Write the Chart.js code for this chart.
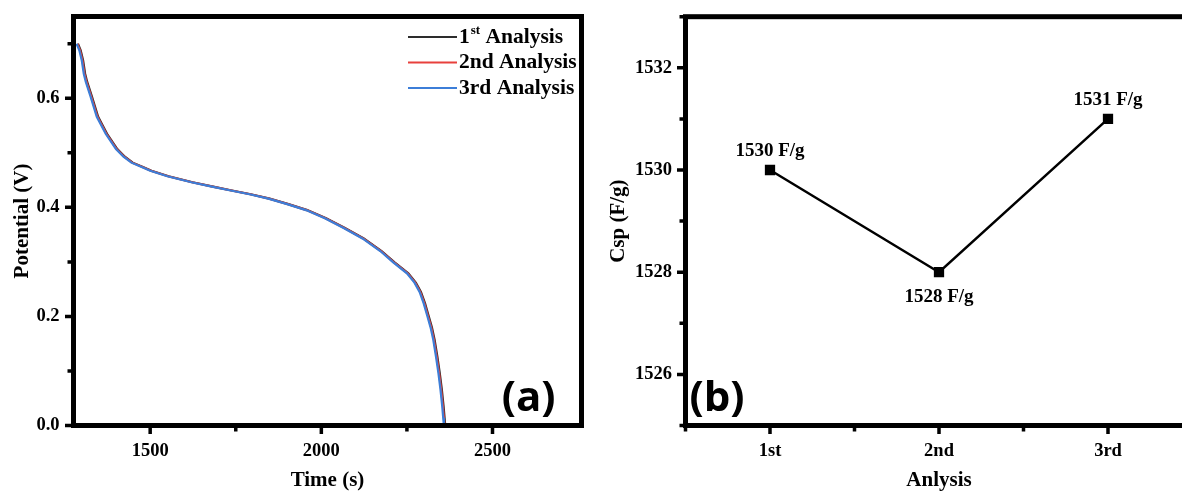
<!DOCTYPE html>
<html>
<head>
<meta charset="utf-8">
<script src="https://cdn.jsdelivr.net/npm/chart.js@4.4.0/dist/chart.umd.min.js"></script>
<style>
html, body { margin: 0; padding: 0; background: #fff; overflow: hidden; }
#wrap { position: relative; width: 1182px; height: 494px; overflow: hidden; }
#gcdChart { position: absolute; left: 0; top: 0; }
#cspChart { position: absolute; left: 600px; top: 0; }
</style>
</head>
<body>
<div id="wrap">
  <canvas id="gcdChart" width="600" height="494"></canvas>
  <canvas id="cspChart" width="620" height="494"></canvas>
</div>
<script>
// (a) discharge curves
const time1st = [1289, 1297, 1304, 1310, 1316, 1329, 1348, 1374, 1404, 1426, 1449, 1479, 1504, 1554, 1624, 1684, 1739, 1794, 1849, 1904, 1959, 2014, 2069, 2124, 2176, 2214, 2254, 2276, 2291, 2303, 2314, 2323, 2331, 2339, 2346, 2352, 2357, 2360, 2362];
const time2nd = [1287, 1295, 1302, 1308, 1314, 1327, 1346, 1372, 1402, 1424, 1447, 1477, 1502, 1552, 1622, 1682, 1737, 1792, 1847, 1902, 1957, 2012, 2067, 2122, 2174, 2212, 2252, 2274, 2289, 2301, 2312, 2321, 2329, 2337, 2344, 2350, 2355, 2358, 2360];
const time3rd = [1285, 1293, 1300, 1306, 1312, 1325, 1344, 1370, 1400, 1422, 1445, 1475, 1500, 1550, 1620, 1680, 1735, 1790, 1845, 1900, 1955, 2010, 2065, 2120, 2172, 2210, 2250, 2272, 2287, 2299, 2310, 2319, 2327, 2335, 2342, 2348, 2353, 2356, 2358];
const potential = [0.700, 0.688, 0.670, 0.645, 0.630, 0.605, 0.566, 0.535, 0.507, 0.493, 0.482, 0.474, 0.467, 0.457, 0.446, 0.438, 0.431, 0.424, 0.416, 0.406, 0.395, 0.380, 0.362, 0.343, 0.320, 0.299, 0.279, 0.262, 0.245, 0.224, 0.200, 0.180, 0.157, 0.126, 0.096, 0.066, 0.036, 0.014, 0.000];
const seriesNames = ['1st Analysis', '2nd Analysis', '3rd Analysis'];

const timeTicks = [1500, 2000, 2500];
const timeTickLabels = ['1500', '2000', '2500'];
const timeMinor = [1750, 2250];
const potTicks = [0, 0.2, 0.4, 0.6];
const potTickLabels = ['0.0', '0.2', '0.4', '0.6'];
const potMinor = [0.1, 0.3, 0.5, 0.7];

// (b) specific capacitance
const analyses = ['1st', '2nd', '3rd'];
const csp = [1530, 1528, 1531];
const cspTicks = [1526, 1528, 1530, 1532];
const cspMinor = [1525, 1527, 1529, 1531, 1533];
const analysisMinor = [0.5, 1.5, 2.5];

const serif = '"Liberation Serif", "Times New Roman", serif';
const colours = ['#2d2d2d', '#e8403c', '#3c7ed8'];

// box round the plot + outward ticks
const frame = {
    id: 'frame',
    afterDatasetsDraw(chart, args, o) {
        const { ctx, chartArea: a } = chart;
        const x = chart.scales.x, y = chart.scales.y;
        ctx.save();
        ctx.strokeStyle = '#000';
        ctx.lineWidth = 5;
        ctx.strokeRect(a.left, a.top, a.right - a.left, a.bottom - a.top);
        ctx.lineWidth = 3.5;
        ctx.beginPath();
        o.xMajor.forEach(v => { const p = x.getPixelForValue(v); ctx.moveTo(p, a.bottom); ctx.lineTo(p, a.bottom + 8.5); });
        o.xMinor.forEach(v => { const p = x.getPixelForValue(v); ctx.moveTo(p, a.bottom); ctx.lineTo(p, a.bottom + 6); });
        o.yMajor.forEach(v => { const p = y.getPixelForValue(v); ctx.moveTo(a.left, p); ctx.lineTo(a.left - 8.5, p); });
        o.yMinor.forEach(v => { const p = y.getPixelForValue(v); ctx.moveTo(a.left, p); ctx.lineTo(a.left - 6, p); });
        ctx.stroke();
        ctx.restore();
    }
};

const panelLetter = {
    id: 'panelLetter',
    afterDraw(chart, args, o) {
        const { ctx, chartArea: a } = chart;
        ctx.save();
        ctx.fillStyle = '#000';
        ctx.font = 'bold 42px "Open Sans", Lato, sans-serif';
        ctx.textBaseline = 'alphabetic';
        ctx.textAlign = o.align;
        ctx.fillText(o.text, o.align === 'right' ? a.right - 26 : a.left + 4, a.bottom - 15);
        ctx.restore();
    }
};

// legend drawn by hand so "1st" can carry a superscript
const gcdLegend = {
    id: 'gcdLegend',
    afterDraw(chart) {
        const { ctx } = chart;
        ctx.save();
        ctx.textBaseline = 'middle';
        chart.data.datasets.forEach((ds, i) => {
            const y = 37 + i * 25.5;
            ctx.strokeStyle = ds.borderColor;
            ctx.lineWidth = 2;
            ctx.beginPath();
            ctx.moveTo(408, y);
            ctx.lineTo(457, y);
            ctx.stroke();
            ctx.fillStyle = '#000';
            let x = 459;
            ctx.font = 'bold 21.5px ' + serif;
            if (i === 0) {
                ctx.fillText('1', x, y);
                x += ctx.measureText('1').width + 1;
                ctx.font = 'bold 13px ' + serif;
                ctx.fillText('st', x, y - 6);
                x += ctx.measureText('st').width;
                ctx.font = 'bold 21.5px ' + serif;
                ctx.fillText(' Analysis', x, y);
            } else {
                ctx.fillText(ds.label, x, y);
            }
        });
        ctx.restore();
    }
};

const cspLabels = {
    id: 'cspLabels',
    afterDatasetsDraw(chart) {
        const { ctx } = chart;
        const meta = chart.getDatasetMeta(0);
        ctx.save();
        ctx.fillStyle = '#000';
        ctx.font = 'bold 19px ' + serif;
        ctx.textAlign = 'center';
        ctx.textBaseline = 'middle';
        meta.data.forEach((pt, i) => {
            const below = i > 0 && csp[i] < csp[i - 1] && (i === csp.length - 1 || csp[i] < csp[i + 1]);
            ctx.fillText(csp[i] + ' F/g', pt.x, pt.y + (below ? 25 : -19));
        });
        ctx.restore();
    }
};

const tickFont = { family: serif, size: 18.5, weight: 'bold' };
const titleFont = { family: serif, size: 21, weight: 'bold', lineHeight: 1.2 };

// fixed axis sizes, no label overhang padding
const fixX = s => { s.height = 68.5; s.paddingLeft = 0; s.paddingRight = 0; };
const fixY = w => s => { s.width = w; s.paddingTop = 0; s.paddingBottom = 0; };

new Chart(document.getElementById('gcdChart'), {
    type: 'line',
    data: {
        datasets: [time1st, time2nd, time3rd].map((ts, i) => ({
            label: seriesNames[i],
            data: ts.map((t, k) => ({ x: t, y: potential[k] })),
            borderColor: colours[i],
            borderWidth: 2.2,
            pointRadius: 0,
            tension: 0,
            fill: false,
            order: 3 - i
        }))
    },
    options: {
        responsive: false,
        animation: false,
        layout: { padding: { left: 0, top: 16.5, right: 18.5, bottom: 0 } },
        plugins: {
            legend: { display: false },
            tooltip: { enabled: false },
            frame: { xMajor: timeTicks, xMinor: timeMinor, yMajor: potTicks, yMinor: potMinor },
            panelLetter: { text: '(a)', align: 'right' }
        },
        scales: {
            x: {
                type: 'linear',
                min: 1276,
                max: 2760,
                grid: { display: false },
                border: { display: false },
                afterBuildTicks: s => { s.ticks = timeTicks.map(v => ({ value: v })); },
                afterFit: fixX,
                ticks: {
                    color: '#000', font: tickFont, padding: 7, maxRotation: 0, autoSkip: false,
                    callback: v => timeTickLabels[timeTicks.indexOf(v)]
                },
                title: { display: true, text: 'Time (s)', color: '#000', font: titleFont, padding: { top: 0, bottom: 1 } }
            },
            y: {
                type: 'linear',
                min: 0,
                max: 0.75,
                grid: { display: false },
                border: { display: false },
                afterBuildTicks: s => { s.ticks = potTicks.map(v => ({ value: v })); },
                afterFit: fixY(73.5),
                ticks: {
                    color: '#000', font: tickFont, padding: 6,
                    callback: v => potTickLabels[potTicks.indexOf(v)]
                },
                title: { display: true, text: 'Potential (V)', color: '#000', font: titleFont, padding: { top: 10, bottom: 0 } }
            }
        }
    },
    plugins: [frame, gcdLegend, panelLetter]
});

new Chart(document.getElementById('cspChart'), {
    type: 'line',
    data: {
        datasets: [{
            label: 'Csp',
            data: csp.map((v, i) => ({ x: i + 1, y: v })),
            borderColor: '#000',
            backgroundColor: '#000',
            borderWidth: 2.5,
            pointStyle: 'rect',
            pointRadius: 5.5,
            tension: 0
        }]
    },
    options: {
        responsive: false,
        animation: false,
        layout: { padding: { left: 0, top: 16.7, right: 27.5, bottom: 0 } },
        plugins: {
            legend: { display: false },
            tooltip: { enabled: false },
            frame: { xMajor: [1, 2, 3], xMinor: analysisMinor, yMajor: cspTicks, yMinor: cspMinor },
            panelLetter: { text: '(b)', align: 'left' }
        },
        scales: {
            x: {
                type: 'linear',
                min: 0.5,
                max: 3.5,
                grid: { display: false },
                border: { display: false },
                afterBuildTicks: s => { s.ticks = analyses.map((c, i) => ({ value: i + 1 })); },
                afterFit: fixX,
                ticks: {
                    color: '#000', font: tickFont, padding: 7, maxRotation: 0, autoSkip: false,
                    callback: v => analyses[v - 1]
                },
                title: { display: true, text: 'Anlysis', color: '#000', font: titleFont, padding: { top: 0, bottom: 1 } }
            },
            y: {
                type: 'linear',
                min: 1525,
                max: 1533,
                grid: { display: false },
                border: { display: false },
                afterBuildTicks: s => { s.ticks = cspTicks.map(v => ({ value: v })); },
                afterFit: fixY(85.5),
                ticks: {
                    color: '#000', font: tickFont, padding: 5.5,
                    callback: v => String(v)
                },
                title: { display: true, text: 'Csp (F/g)', color: '#000', font: titleFont, padding: { top: 6, bottom: 0 } }
            }
        }
    },
    plugins: [frame, cspLabels, panelLetter]
});
</script>
</body>
</html>
